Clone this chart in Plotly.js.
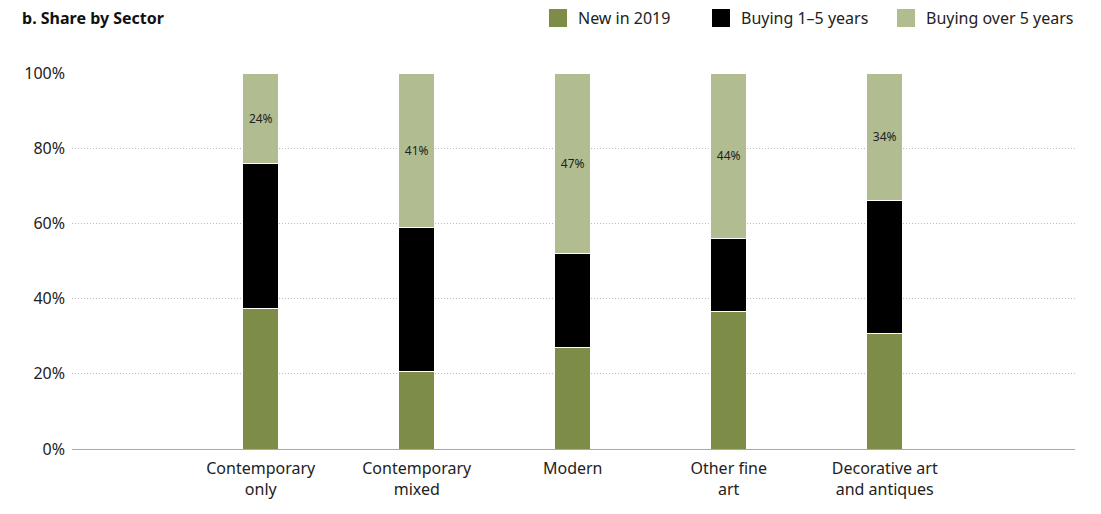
<!DOCTYPE html>
<html><head><meta charset="utf-8">
<script src="https://cdn.plot.ly/plotly-3.0.1.min.js"></script>
<style>body{margin:0;background:#fff}#c{width:1101px;height:514px}</style>
</head><body><div id="c"></div>
<script>
const categories = ["Contemporary<br>only", "Contemporary<br>mixed", "Modern", "Other fine<br>art", "Decorative art<br>and antiques"];
const seriesNames = ["New in 2019", "Buying 1–5 years", "Buying over 5 years"];
const newIn2019 = [37.5, 20.6, 26.9, 36.7, 30.6];
const buying1to5 = [38.5, 38.3, 25.0, 19.2, 35.4];
const buyingOver5 = [24.0, 41.1, 48.1, 44.1, 34.0];
const buyingOver5Labels = ["24%", "41%", "47%", "44%", "34%"];
const yTicks = [0, 20, 40, 60, 80, 100];
const yTickLabels = ["0%", "20%", "40%", "60%", "80%", "100%"];

const colors = ["#7d8d48", "#000000", "#b1bc91"];
const font = "'Noto Sans', 'Open Sans', sans-serif";
const W = 1101, H = 514;
const M = {l: 72, r: 26, t: 73, b: 65};
const PW = W - M.l - M.r, PH = H - M.t - M.b;
const common = {type: "bar", x: categories, width: 0.23, hoverinfo: "skip", showlegend: false};
const traces = [
  Object.assign({}, common, {name: seriesNames[0], y: newIn2019, marker: {color: colors[0], line: {color: "#ffffff", width: 1}}}),
  Object.assign({}, common, {name: seriesNames[1], y: buying1to5, marker: {color: colors[1], line: {color: "#ffffff", width: 1}}}),
  Object.assign({}, common, {name: seriesNames[2], y: buyingOver5, marker: {color: colors[2], line: {color: "#ffffff", width: 1}},
    text: buyingOver5Labels, textposition: "inside", insidetextanchor: "middle",
    textfont: {family: font, size: 12, color: "#222"}})
];

// custom legend (pixel positions converted to paper coordinates)
const legendSquareX = [549, 712, 897];
const legendY = 18;
const px = x => (x - M.l) / PW;
const py = y => (H - M.b - y) / PH;
const shapes = [], annotations = [];
seriesNames.forEach((n, i) => {
  shapes.push({type: "rect", xref: "paper", yref: "paper", xsizemode: "pixel", ysizemode: "pixel",
    xanchor: px(legendSquareX[i]), yanchor: py(legendY), x0: 0, x1: 18, y0: -9, y1: 9,
    fillcolor: colors[i], line: {width: 0}});
  annotations.push({xref: "paper", yref: "paper", x: px(legendSquareX[i] + 27), y: py(legendY),
    xanchor: "left", yanchor: "middle", text: n, showarrow: false,
    font: {family: font, size: 16, color: "#222"}});
});

const layout = {
  width: W, height: H,
  margin: M,
  barmode: "stack",
  paper_bgcolor: "#fff", plot_bgcolor: "#fff",
  font: {family: font, size: 16, color: "#222"},
  title: {text: "<b>b. Share by Sector</b>", x: 0.02, xanchor: "left", y: 1 - 18 / H, yanchor: "middle", font: {family: font, size: 16, color: "#111"}},
  showlegend: false,
  shapes: shapes,
  annotations: annotations,
  xaxis: {range: [-1.21, 5.22], showgrid: false, zeroline: false, showline: true, linecolor: "#aaa", linewidth: 1, ticks: "", ticklabelstandoff: 5, tickfont: {family: font, size: 16, color: "#222"}},
  yaxis: {range: [0, 100], tickvals: yTicks, ticktext: yTickLabels, showgrid: true, gridcolor: "#bdbdbd", griddash: "1px,2px", gridwidth: 1, zeroline: false, showline: false, ticks: "", ticklabelstandoff: 6, tickfont: {family: font, size: 16, color: "#222"}}
};
Plotly.newPlot("c", traces, layout, {displayModeBar: false});
</script></body></html>
